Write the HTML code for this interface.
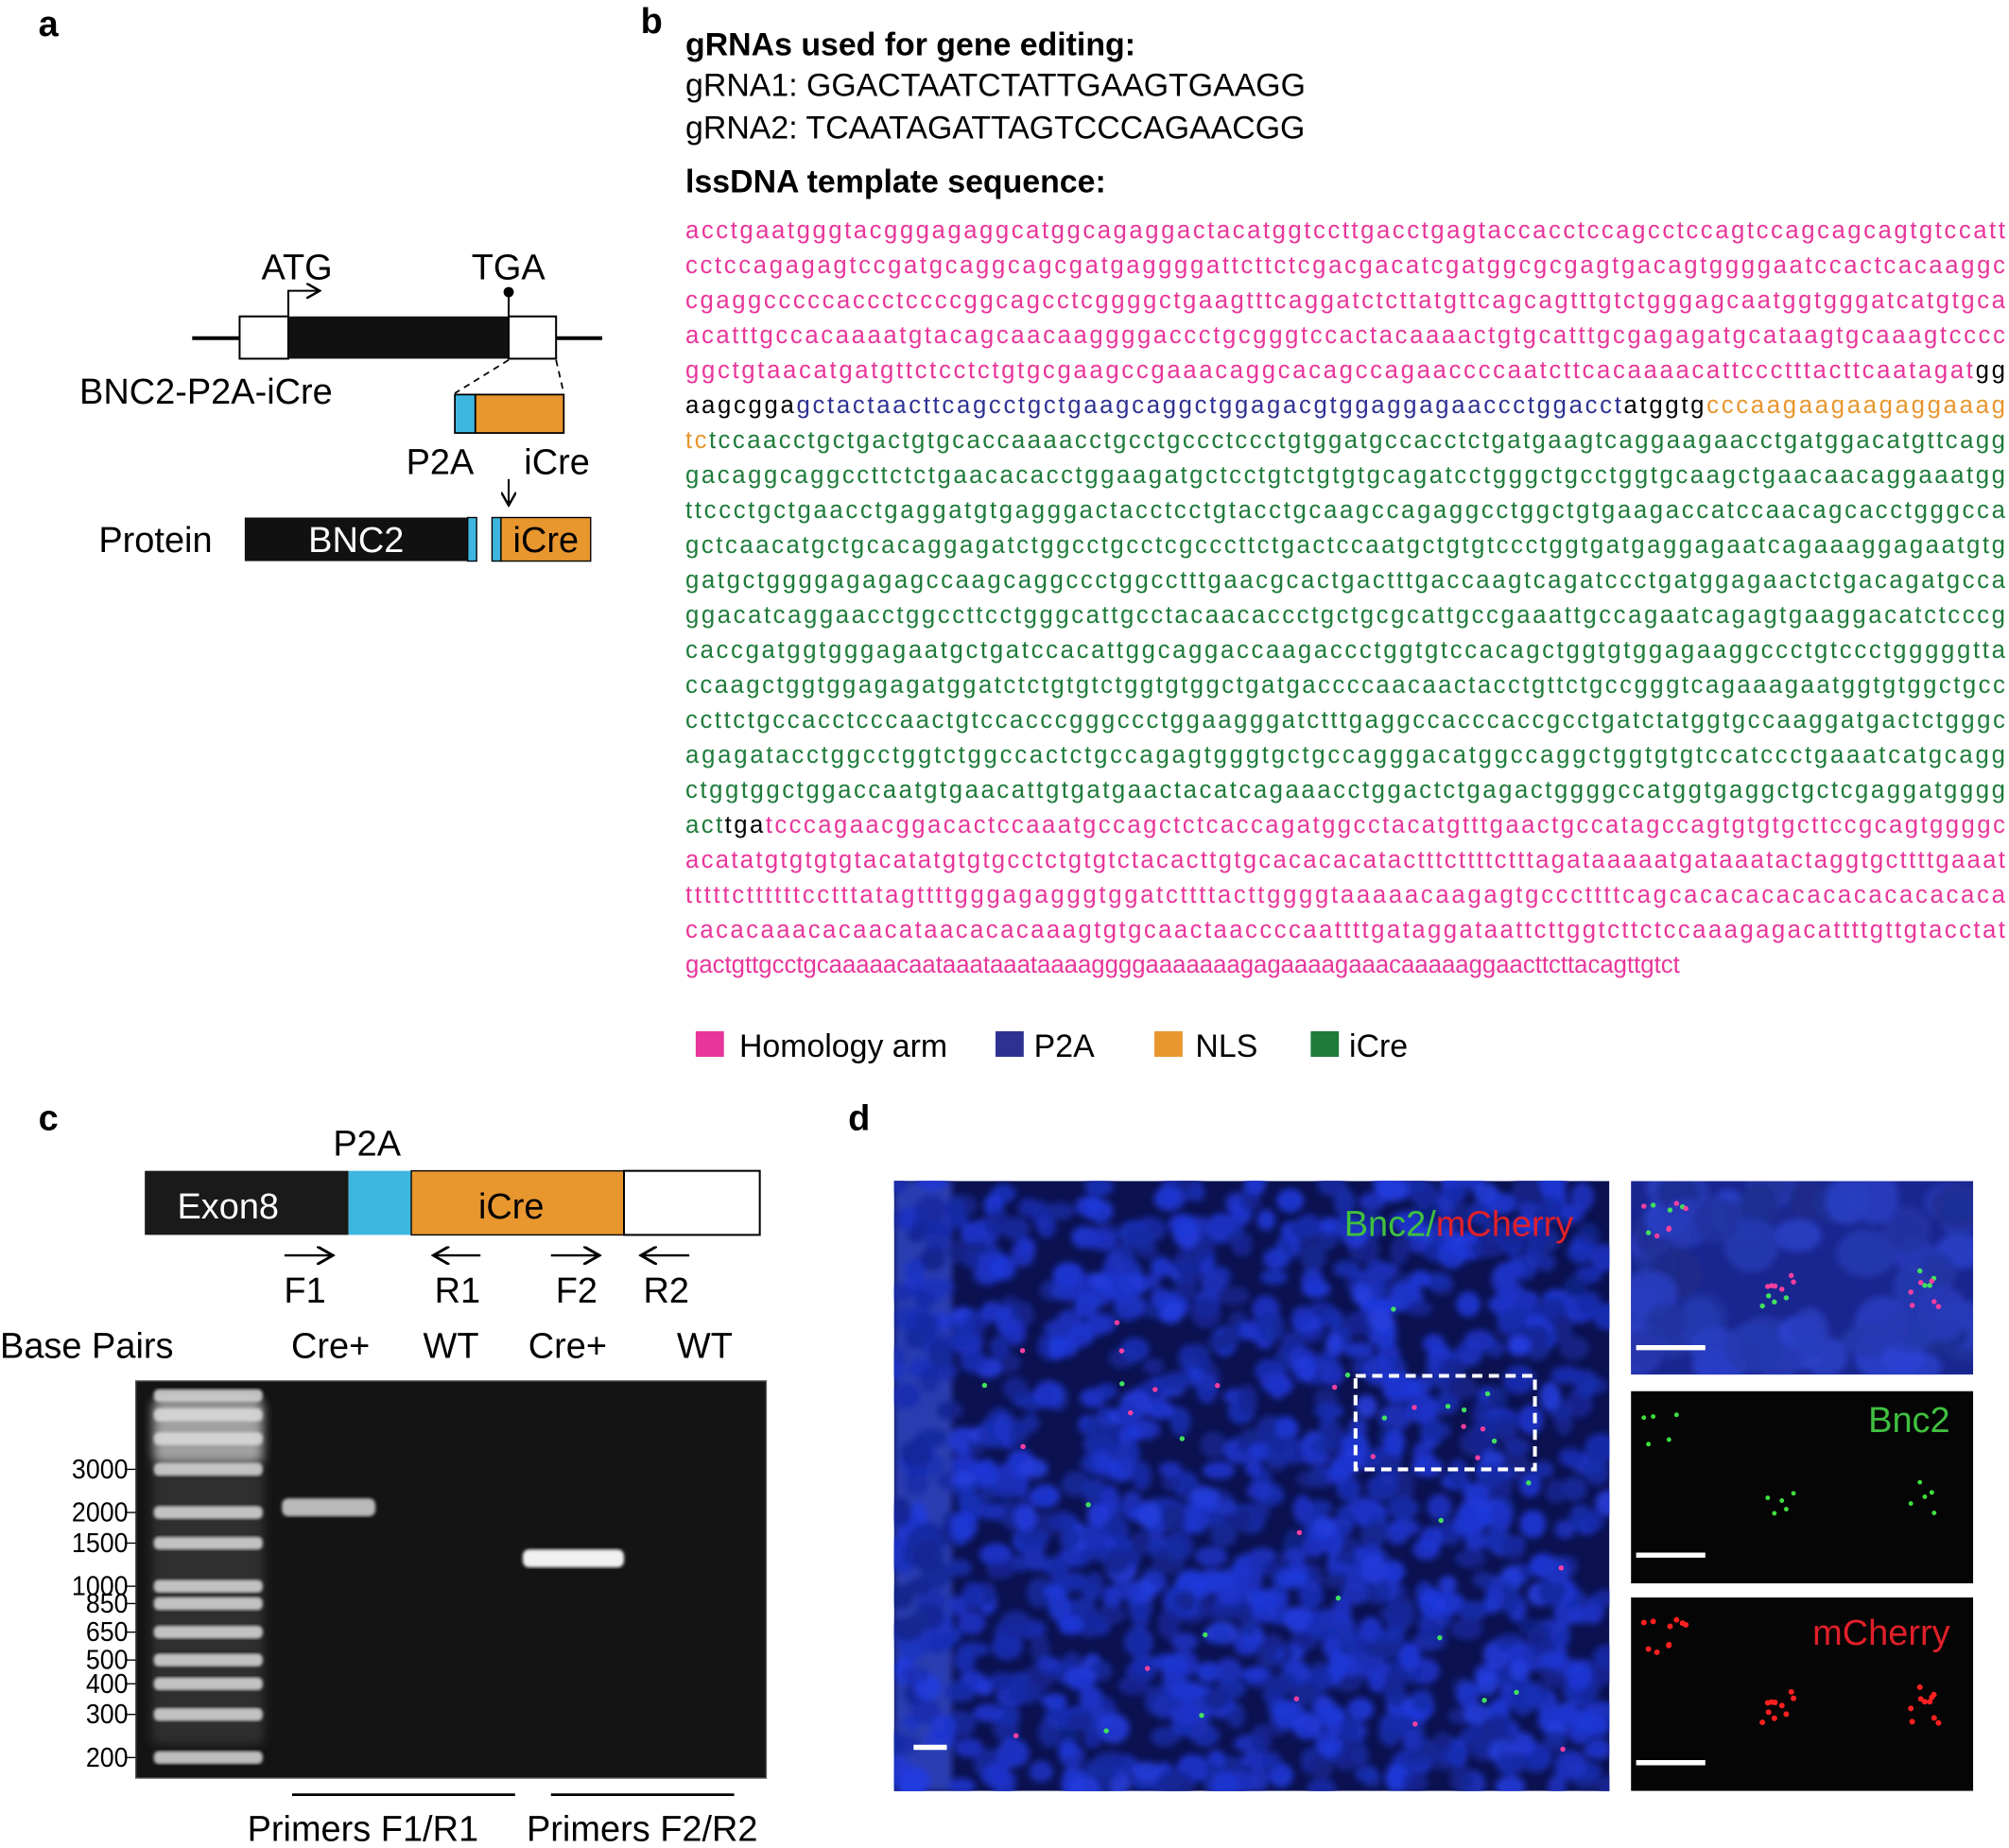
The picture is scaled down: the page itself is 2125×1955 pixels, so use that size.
<!DOCTYPE html>
<html><head><meta charset="utf-8"><style>
html,body{margin:0;padding:0;background:#fff;}
svg{display:block;font-family:"Liberation Sans",Arial,sans-serif;}
</style></head><body>
<svg id="fig" width="2125" height="1955" viewBox="0 0 1568 1442.6" xmlns="http://www.w3.org/2000/svg">
<defs>
<filter id="blur3" x="-20%" y="-20%" width="140%" height="140%"><feGaussianBlur stdDeviation="2.5"/></filter>
<filter id="blur1"><feGaussianBlur stdDeviation="1.2"/></filter>
<filter id="blurg" x="-30%" y="-30%" width="160%" height="160%"><feGaussianBlur stdDeviation="4"/></filter>
<clipPath id="clipMain"><rect x="698" y="922" width="558" height="476"/></clipPath>
<clipPath id="clipIns"><rect x="1273" y="922" width="267" height="151"/></clipPath>
<marker id="ah" markerWidth="8" markerHeight="8" refX="6" refY="4" orient="auto"><path d="M0,0 L7,4 L0,8" fill="none" stroke="#000" stroke-width="1.2"/></marker>
</defs>

<!-- Panel a -->
<g>
<text x="30" y="28" font-size="28" font-weight="bold">a</text>
<text x="204" y="218" font-size="28">ATG</text>
<text x="368" y="218" font-size="28">TGA</text>
<line x1="150" y1="264" x2="470" y2="264" stroke="#000" stroke-width="3"/>
<rect x="187" y="247" width="38" height="33" fill="#fff" stroke="#000" stroke-width="1.5"/>
<rect x="225" y="247" width="172" height="33" fill="#111"/>
<rect x="397" y="247" width="37" height="33" fill="#fff" stroke="#000" stroke-width="1.5"/>
<path d="M225,247 V227 H248" fill="none" stroke="#000" stroke-width="1.5" marker-end="url(#ah)"/>
<line x1="397" y1="247" x2="397" y2="229" stroke="#000" stroke-width="1.5"/>
<circle cx="397" cy="228" r="4" fill="#000"/>
<text x="62" y="315" font-size="28">BNC2-P2A-iCre</text>
<line x1="397" y1="281" x2="355" y2="307" stroke="#000" stroke-dasharray="5,4" stroke-width="1.3"/>
<line x1="434" y1="281" x2="440" y2="307" stroke="#000" stroke-dasharray="5,4" stroke-width="1.3"/>
<rect x="355" y="308" width="16" height="30" fill="#3fb6e0" stroke="#000" stroke-width="1.3"/>
<rect x="371" y="308" width="69" height="30" fill="#e8962e" stroke="#000" stroke-width="1.3"/>
<text x="317" y="370" font-size="28">P2A</text>
<text x="409" y="370" font-size="28">iCre</text>
<line x1="397" y1="374" x2="397" y2="393" stroke="#000" stroke-width="1.5" marker-end="url(#ah)"/>
<text x="77" y="431" font-size="28">Protein</text>
<rect x="191" y="404" width="174" height="34" fill="#111"/>
<text x="278" y="431" font-size="28" fill="#fff" text-anchor="middle">BNC2</text>
<rect x="365" y="404" width="7" height="34" fill="#3fb6e0" stroke="#000" stroke-width="1"/>
<rect x="384" y="404" width="7" height="34" fill="#3fb6e0" stroke="#000" stroke-width="1"/>
<rect x="391" y="404" width="70" height="34" fill="#e8962e" stroke="#000" stroke-width="1"/>
<text x="426" y="431" font-size="28" text-anchor="middle">iCre</text>
</g>

<!-- Panel b -->
<g>
<text x="500" y="26" font-size="28" font-weight="bold">b</text>
<text x="535" y="43" font-size="25" font-weight="bold">gRNAs used for gene editing:</text>
<text x="535" y="75" font-size="25">gRNA1: GGACTAATCTATTGAAGTGAAGG</text>
<text x="535" y="108" font-size="25">gRNA2: TCAATAGATTAGTCCCAGAACGG</text>
<text x="535" y="150" font-size="25" font-weight="bold">lssDNA template sequence:</text>
<g id="seq" font-size="19"></g>
<g>
<rect x="543" y="805" width="22" height="20" fill="#e8359a"/><text x="577" y="825" font-size="25">Homology arm</text>
<rect x="777" y="805" width="22" height="20" fill="#2e3192"/><text x="807" y="825" font-size="25">P2A</text>
<rect x="901" y="805" width="22" height="20" fill="#e8962e"/><text x="933" y="825" font-size="25">NLS</text>
<rect x="1023" y="805" width="22" height="20" fill="#1e7b3a"/><text x="1053" y="825" font-size="25">iCre</text>
</g>
</g>

<!-- Panel c -->
<g>
<text x="30" y="882" font-size="28" font-weight="bold">c</text>
<text x="260" y="902" font-size="28">P2A</text>
<rect x="113" y="914" width="159" height="50" fill="#1a1a1a"/>
<text x="178" y="951" font-size="28" fill="#fff" text-anchor="middle">Exon8</text>
<rect x="272" y="914" width="49" height="50" fill="#3fb6e0"/>
<rect x="321" y="914" width="166" height="50" fill="#e8962e" stroke="#000" stroke-width="1"/>
<text x="399" y="951" font-size="28" text-anchor="middle">iCre</text>
<rect x="487" y="914" width="106" height="50" fill="#fff" stroke="#000" stroke-width="1.5"/>
<line x1="222" y1="980" x2="258" y2="980" stroke="#000" stroke-width="1.8" marker-end="url(#ah)"/>
<line x1="375" y1="980" x2="340" y2="980" stroke="#000" stroke-width="1.8" marker-end="url(#ah)"/>
<line x1="430" y1="980" x2="466" y2="980" stroke="#000" stroke-width="1.8" marker-end="url(#ah)"/>
<line x1="538" y1="980" x2="502" y2="980" stroke="#000" stroke-width="1.8" marker-end="url(#ah)"/>
<g font-size="28" text-anchor="middle">
<text x="238" y="1017">F1</text><text x="357" y="1017">R1</text><text x="450" y="1017">F2</text><text x="520" y="1017">R2</text>
<text x="258" y="1060">Cre+</text><text x="352" y="1060">WT</text><text x="443" y="1060">Cre+</text><text x="550" y="1060">WT</text>
</g>
<text x="0" y="1060" font-size="28">Base Pairs</text>
<rect x="106" y="1078" width="492" height="310" fill="#141414" stroke="#555" stroke-width="1"/>
<g id="gel"></g>
<line x1="228" y1="1401" x2="402" y2="1401" stroke="#000" stroke-width="2"/>
<line x1="430" y1="1401" x2="573" y2="1401" stroke="#000" stroke-width="2"/>
<text x="193" y="1437" font-size="28">Primers F1/R1</text>
<text x="411" y="1437" font-size="28">Primers F2/R2</text>
</g>

<!-- Panel d -->
<g>
<text x="662" y="882" font-size="28" font-weight="bold">d</text>
<rect x="698" y="922" width="558" height="476" fill="#0c1250"/>
<g id="cellsMain" clip-path="url(#clipMain)" filter="url(#blur3)"></g>
<text x="1228" y="965" font-size="28" text-anchor="end"><tspan fill="#3fc03f">Bnc2/</tspan><tspan fill="#e0202a">mCherry</tspan></text>
<rect x="1058" y="1074" width="140" height="73" fill="none" stroke="#fff" stroke-width="3" stroke-dasharray="8,5"/>
<line x1="713" y1="1364" x2="739" y2="1364" stroke="#fff" stroke-width="4"/>
<rect x="1273" y="922" width="267" height="151" fill="#1a2690"/>
<g id="cellsIns" clip-path="url(#clipIns)" filter="url(#blur3)"></g>
<rect x="1273" y="1086" width="267" height="150" fill="#050505"/>
<text x="1522" y="1118" font-size="28" fill="#3fc03f" text-anchor="end">Bnc2</text>
<rect x="1273" y="1247" width="267" height="151" fill="#050505"/>
<text x="1522" y="1284" font-size="28" fill="#e0202a" text-anchor="end">mCherry</text>
<g id="dots"></g>
<line x1="1277" y1="1052" x2="1331" y2="1052" stroke="#fff" stroke-width="4"/>
<line x1="1277" y1="1214" x2="1331" y2="1214" stroke="#fff" stroke-width="4"/>
<line x1="1277" y1="1376" x2="1331" y2="1376" stroke="#fff" stroke-width="4"/>
</g>
</svg>
<script>
// gel data
const ladderBp = [200,300,400,500,650,850,1000,1500,2000,3000,4000,5000,6000,8000];
const tickLabels = [3000,2000,1500,1000,850,650,500,400,300,200];
const sampleLanes = ["F1/R1 Cre+","F1/R1 WT","F2/R2 Cre+","F2/R2 WT"];
const sampleBp = [2100,0,1300,0];
const sampleIntensity = [0.75,0,1,0];
const NS='http://www.w3.org/2000/svg';
function mk(t,a,p){const e=document.createElementNS(NS,t);for(const k in a)e.setAttribute(k,a[k]);(p||document.getElementById('fig')).appendChild(e);return e;}
function yBp(bp){return 1372-191.3*Math.log10(bp/200);}
const laneX=[[220,293],[300,400],[408,487],[495,590]];
const gel=document.getElementById('gel');
mk('rect',{x:118,y:1092,width:88,height:270,rx:6,fill:'#3a3a3a',opacity:0.7,filter:'url(#blurg)'},gel);
mk('rect',{x:120,y:1092,width:85,height:50,rx:6,fill:'#d0d0d0',opacity:0.7,filter:'url(#blurg)'},gel);
ladderBp.forEach(bp=>{const y=yBp(bp);if(y<1085)return;
 const r=mk('rect',{x:120,y:y-5,width:85,height:10,rx:4,fill:'#dcdcdc',opacity:0.85,filter:'url(#blur1)'},gel);
 
 });
tickLabels.forEach(bp=>{const y=yBp(bp);
 mk('line',{x1:98,x2:106,y1:y,y2:y,stroke:'#000','stroke-width':1},gel);
 const t=mk('text',{x:100,y:y+7,'font-size':21,'text-anchor':'end',textLength:String(bp).length*11,lengthAdjust:'spacingAndGlyphs'},gel);t.textContent=bp;
 
 });
sampleBp.forEach((bp,i)=>{if(!bp)return;const y=yBp(bp);
 const r=mk('rect',{x:laneX[i][0],y:y-7,width:laneX[i][1]-laneX[i][0],height:14,rx:5,fill:'#f0f0f0',opacity:sampleIntensity[i],filter:'url(#blur1)'},gel);
 
 });
// sequence
const P='#e8359a',B='#2e3192',O='#e8962e',G='#1e7b3a',K='#000';
const seqLines=[
[[P,'acctgaatgggtacgggagaggcatggcagaggactacatggtccttgacctgagtaccacctccagcctccagtccagcagcagtgtccatt']],
[[P,'cctccagagagtccgatgcaggcagcgatgaggggattcttctcgacgacatcgatggcgcgagtgacagtggggaatccactcacaaggc']],
[[P,'cgaggcccccaccctccccggcagcctcggggctgaagtttcaggatctcttatgttcagcagtttgtctgggagcaatggtgggatcatgtgca']],
[[P,'acatttgccacaaaatgtacagcaacaaggggaccctgcgggtccactacaaaactgtgcatttgcgagagatgcataagtgcaaagtcccc']],
[[P,'ggctgtaacatgatgttctcctctgtgcgaagccgaaacaggcacagccagaaccccaatcttcacaaaacattccctttacttcaatagat'],[K,'gg']],
[[K,'aagcgga'],[B,'gctactaacttcagcctgctgaagcaggctggagacgtggaggagaaccctggacct'],[K,'atggtg'],[O,'cccaagaagaagaggaaag']],
[[O,'tc'],[G,'tccaacctgctgactgtgcaccaaaacctgcctgccctccctgtggatgccacctctgatgaagtcaggaagaacctgatggacatgttcagg']],
[[G,'gacaggcaggccttctctgaacacacctggaagatgctcctgtctgtgtgcagatcctgggctgcctggtgcaagctgaacaacaggaaatgg']],
[[G,'ttccctgctgaacctgaggatgtgagggactacctcctgtacctgcaagccagaggcctggctgtgaagaccatccaacagcacctgggcca']],
[[G,'gctcaacatgctgcacaggagatctggcctgcctcgcccttctgactccaatgctgtgtccctggtgatgaggagaatcagaaaggagaatgtg']],
[[G,'gatgctggggagagagccaagcaggccctggcctttgaacgcactgactttgaccaagtcagatccctgatggagaactctgacagatgcca']],
[[G,'ggacatcaggaacctggccttcctgggcattgcctacaacaccctgctgcgcattgccgaaattgccagaatcagagtgaaggacatctcccg']],
[[G,'caccgatggtgggagaatgctgatccacattggcaggaccaagaccctggtgtccacagctggtgtggagaaggccctgtccctgggggtta']],
[[G,'ccaagctggtggagagatggatctctgtgtctggtgtggctgatgaccccaacaactacctgttctgccgggtcagaaagaatggtgtggctgcc']],
[[G,'ccttctgccacctcccaactgtccacccgggccctggaagggatctttgaggccacccaccgcctgatctatggtgccaaggatgactctgggc']],
[[G,'agagatacctggcctggtctggccactctgccagagtgggtgctgccagggacatggccaggctggtgtgtccatccctgaaatcatgcagg']],
[[G,'ctggtggctggaccaatgtgaacattgtgatgaactacatcagaaacctggactctgagactggggccatggtgaggctgctcgaggatgggg']],
[[G,'act'],[K,'tga'],[P,'tcccagaacggacactccaaatgccagctctcaccagatggcctacatgtttgaactgccatagccagtgtgtgcttccgcagtggggc']],
[[P,'acatatgtgtgtgtacatatgtgtgcctctgtgtctacacttgtgcacacacatactttcttttctttagataaaaatgataaatactaggtgcttttgaaat']],
[[P,'tttttcttttttcctttatagttttgggagagggtggatcttttacttggggtaaaaacaagagtgcccttttcagcacacacacacacacacacaca']],
[[P,'cacacaaacacaacataacacacaaagtgtgcaactaaccccaattttgataggataattcttggtcttctccaaagagacattttgttgtacctat']],
[[P,'gactgttgcctgcaaaaacaataaataaataaaaggggaaaaaaagagaaaagaaacaaaaaggaacttcttacagttgtct']]];
const seqG=document.getElementById('seq');
seqLines.forEach((segs,i)=>{
 const last=i===seqLines.length-1;
 const attrs={x:535,y:186+i*27.3};
 if(!last){attrs.textLength=1030;attrs.lengthAdjust='spacing';}
 const t=mk('text',attrs,seqG);
 
 
 segs.forEach(s=>{const ts=mk('tspan',{fill:s[0]},t);ts.textContent=s[1];});
});
// micrograph texture (decorative)
let sd=7;function rnd(){sd=(sd*16807)%2147483647;return sd/2147483647;}
const cm=document.getElementById('cellsMain');
mk('rect',{x:698,y:922,width:45,height:476,fill:'#2a3cb0'},cm);
for(let i=0;i<1100;i++){const x=698+rnd()*558,y=922+rnd()*476;
 const l=30+rnd()*22;
 mk('ellipse',{cx:x,cy:y,rx:7+rnd()*6,ry:6+rnd()*6,fill:`hsl(232,75%,${l}%)`,opacity:0.85},cm);}
const ci=document.getElementById('cellsIns');
for(let i=0;i<60;i++){mk('ellipse',{cx:1273+rnd()*267,cy:922+rnd()*151,rx:14+rnd()*10,ry:12+rnd()*10,fill:`hsl(232,65%,${32+rnd()*18}%)`,opacity:0.85},ci);}
const dg=document.getElementById('dots');
const clusters=[[1300,955],[1390,1010],[1495,1010]];
clusters.forEach(([cx,cy],k)=>{for(let j=0;j<10;j++){
 const dx=(rnd()-0.5)*36,dy=(rnd()-0.5)*36;
 mk('circle',{cx:cx+dx,cy:cy+dy,r:2,fill:j%3?'#ff3fa0':'#40e060'},dg);
 mk('circle',{cx:cx+dx,cy:cy+dy+325,r:2.2,fill:'#ff2020'},dg);
 if(j%2) mk('circle',{cx:cx+dx,cy:cy+dy+165,r:1.8,fill:'#40e040'},dg);}});
for(let i=0;i<30;i++){mk('circle',{cx:760+rnd()*480,cy:1000+rnd()*380,r:2,fill:i%2?'#ff3fa0':'#40e060'},dg);}
for(let i=0;i<10;i++){mk('circle',{cx:1062+rnd()*130,cy:1080+rnd()*60,r:2,fill:i%2?'#ff3fa0':'#40e060'},dg);}
</script>
</body></html>
